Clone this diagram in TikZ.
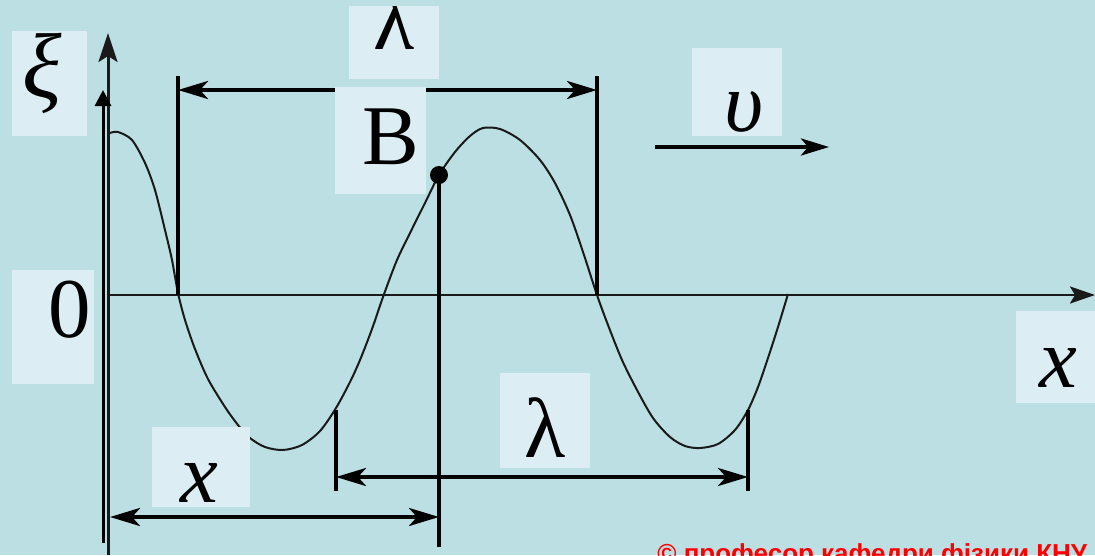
\documentclass[tikz,border=0pt]{standalone}
\usepackage{fontspec}
\setmainfont{Liberation Serif}
\setsansfont{Liberation Sans}
\usetikzlibrary{arrows.meta}

\begin{document}
\begin{tikzpicture}[x=1pt, y=-1pt, >=Stealth, thick]

  % Colors
  \definecolor{bgcolor}{HTML}{BBDFE3}
  \definecolor{boxcolor}{HTML}{DCEEF3}
  \definecolor{inkcolor}{HTML}{1A1A1A}

  \tikzset{
    labelbox/.style={fill=boxcolor},
    bigtext/.style={font=\fontsize{85}{85}\selectfont, inner sep=0pt, anchor=base},
    dimline/.style={line width=4pt, {Stealth[length=30pt, width=18pt, inset=8pt]}-{Stealth[length=30pt, width=18pt, inset=8pt]}},
    marker/.style={line width=3.5pt},
  }

  % Background and frame
  \useasboundingbox (0,0) rectangle (1095,555);
  \fill[bgcolor] (0,0) rectangle (1095,555);
  \clip (0,0) rectangle (1095,555);

  % Key points
  \coordinate (O) at (110,295);
  \coordinate (xend) at (1095,295);
  \coordinate (axAbot) at (108,555);
  \coordinate (axAtop) at (108,33);
  \coordinate (axBbot) at (103,543);
  \coordinate (axBtop) at (103,90);
  \coordinate (B) at (439,175);
  \coordinate (Bfoot) at (439,547);

  % The wave
  \draw[line width=2pt, inkcolor] plot[smooth, tension=0.5] coordinates {
    (110,133) (118,132) (132,140) (145,163) (155,190) (165,230) (172,260)
    (178,293) (185,320) (195,349) (208,379) (225,407) (238,425) (250,438)
    (265,447) (283,450) (302,445) (320,431) (336,408) (350,382) (360,360)
    (372,329) (383,297) (397,260) (412,229) (425,203) (439,175) (455,152)
    (470,136) (483,128) (500,129) (520,140) (540,160) (555,183) (570,215)
    (583,252) (597,295) (608,325) (622,360) (637,390) (653,418) (670,437)
    (685,446) (700,448) (718,444) (735,430) (748,410) (758,387) (768,358)
    (778,327) (788,294)};

  % Axes
  \draw[line width=2.5pt, inkcolor, -{Stealth[length=25pt, width=17pt, inset=5pt]}] (O) -- (xend);
  \draw[line width=3pt, inkcolor, -{Stealth[length=29pt, width=19pt, inset=6pt]}] (axAbot) -- (axAtop);
  \draw[line width=3pt, -{Triangle[length=16pt, width=16pt]}] (axBbot) -- (axBtop);

  % Top wavelength
  \coordinate (lamTa) at (178,76);
  \coordinate (lamTb) at (597,76);
  \draw[marker] (lamTa) -- (178,295);
  \draw[marker] (lamTb) -- (597,295);
  \draw[dimline] (178,90) -- (597,90);

  % Bottom wavelength
  \coordinate (lamBa) at (336,477);
  \coordinate (lamBb) at (748,477);
  \draw[marker] (336,410) -- (336,491);
  \draw[marker] (748,410) -- (748,491);
  \draw[dimline] (lamBa) -- (lamBb);

  % Distance x to point B
  \coordinate (xa) at (110,517);
  \coordinate (xb) at (439,517);
  \draw[marker] (B) -- (Bfoot);
  \draw[dimline] (xa) -- (xb);

  % Velocity
  \coordinate (va) at (655,147);
  \coordinate (vb) at (829,147);
  \draw[line width=4pt, -{Stealth[length=28pt, width=17pt, inset=7pt]}] (va) -- (vb);

  % Point B
  \fill (B) circle[radius=9pt];

  % Label boxes
  \fill[labelbox] (12,31) rectangle (87,136);
  \fill[labelbox] (349,6) rectangle (439,79);
  \fill[labelbox] (335,87) rectangle (426,194);
  \fill[labelbox] (692,48) rectangle (782,136);
  \fill[labelbox] (12,270) rectangle (94,384);
  \fill[labelbox] (1016,311) rectangle (1095,403);
  \fill[labelbox] (152,427) rectangle (250,507);
  \fill[labelbox] (500,373) rectangle (590,468);

  % Labels
  \node[bigtext, font=\fontsize{92}{92}\selectfont\itshape] (xi) at (42,97) {ξ};
  \begin{scope}
    \clip (349,6) rectangle (439,79);
    \node[bigtext] (lamtop) at (394,49) {λ};
  \end{scope}
  \node[bigtext] (Blbl) at (391,164) {B};
  \node[bigtext] (vlbl) at (744,131) {\itshape υ};
  \node[bigtext] (zero) at (70,337) {0};
  \node[bigtext] (xright) at (1058,387) {\itshape x};
  \node[bigtext] (xbot) at (199,502) {\itshape x};
  \node[bigtext] (lambot) at (545,457) {λ};

  % Copyright line
  \node[font=\sffamily\bfseries\fontsize{26}{26}\selectfont, text=red, anchor=base west, inner sep=0pt] (copy) at (657,562) {© професор кафедри фізики КНУ};

\end{tikzpicture}
\end{document}
